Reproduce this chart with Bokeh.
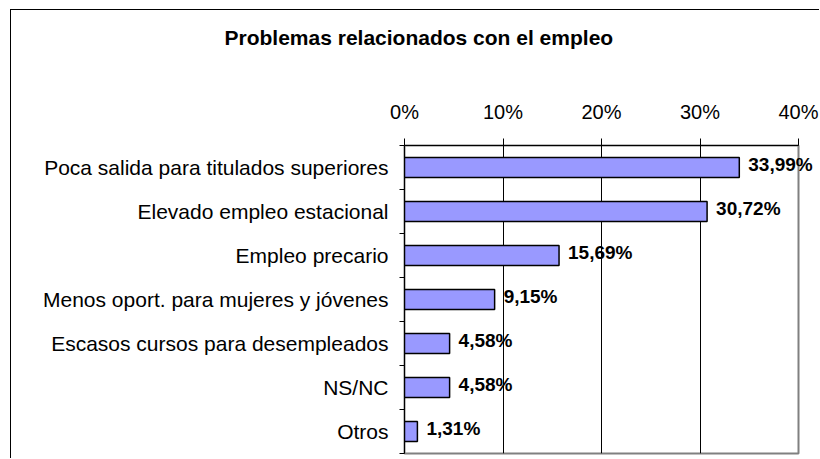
from bokeh.plotting import figure
from bokeh.models import (ColumnDataSource, Range1d, FixedTicker, PrintfTickFormatter,
                          LinearAxis, CustomJSTickFormatter, Title)
from bokeh.core.properties import value
from bokeh.embed import file_html
from bokeh.resources import INLINE

# ---- data ----
categories = ["Poca salida para titulados superiores", "Elevado empleo estacional",
              "Empleo precario", "Menos oport. para mujeres y jóvenes",
              "Escasos cursos para desempleados", "NS/NC", "Otros"]
values = [33.99, 30.72, 15.69, 9.15, 4.58, 4.58, 1.31]
x_ticks = [0, 10, 20, 30, 40]
grid_ticks = [10, 20, 30]
title_text = "Problemas relacionados con el empleo"

n = len(categories)
ypos = [n - i - 0.5 for i in range(n)]          # category slot centres, first on top
labels = [f"{v:.2f}".replace(".", ",") + "%" for v in values]
src = ColumnDataSource(dict(y=ypos, val=values, lab=labels))

FONT = "Liberation Sans"
W, H = 809, 449

p = figure(width=W, height=H, output_backend="svg", toolbar_location=None,
           x_range=Range1d(x_ticks[0], x_ticks[-1]), y_range=Range1d(0, n),
           x_axis_location="above", y_axis_location=None,
           min_border_left=393, min_border_right=22, min_border_top=135, min_border_bottom=6)
# outer chart frame: left and top edges
p.styles = {"border-left": "1px solid black", "border-top": "1px solid black",
            "margin-left": "10px", "margin-top": "9px"}
p.background_fill_color = "white"
p.border_fill_color = "white"
p.outline_line_color = "#808080"
p.outline_line_width = 2

t = Title(text=title_text + "\n\n", align="left", offset=-180, standoff=0,
          text_font=FONT, text_font_style="bold", text_font_size="21px",
          text_line_height=1.06, text_color="black")
p.add_layout(t, "above")

# top axis
xa = p.xaxis[0]
xa.ticker = FixedTicker(ticks=x_ticks)
xa.formatter = PrintfTickFormatter(format="%d%%")
xa.major_tick_out = 7
xa.major_tick_in = 0
xa.minor_tick_line_color = None
xa.axis_line_color = "black"
xa.major_tick_line_color = "black"
xa.major_label_text_font = FONT
xa.major_label_text_font_size = "20px"
xa.major_label_text_color = "black"
xa.major_label_standoff = 16

# grid
p.xgrid.ticker = FixedTicker(ticks=grid_ticks)
p.xgrid.grid_line_color = "black"
p.xgrid.grid_line_width = 1
p.ygrid.visible = False

# left: boundary tick axis (nearest the frame) + category label axis
tick_axis = LinearAxis(ticker=FixedTicker(ticks=list(range(n + 1))),
                       formatter=CustomJSTickFormatter(code="return ''"),
                       major_tick_out=5, major_tick_in=0, minor_tick_line_color=None,
                       major_label_standoff=0, major_label_text_font_size="1px",
                       axis_line_color="black", major_tick_line_color="black")
p.add_layout(tick_axis, "left")
cat_axis = LinearAxis(ticker=FixedTicker(ticks=ypos),
                      formatter=CustomJSTickFormatter(args=dict(cats=categories, n=n),
                                                      code="return cats[n - 1 - Math.floor(tick)]"),
                      axis_line_color=None, major_tick_line_color=None, minor_tick_line_color=None,
                      major_tick_out=0, major_tick_in=0,
                      major_label_standoff=11, major_label_text_font=FONT,
                      major_label_text_font_size="21px", major_label_text_color="black")
p.add_layout(cat_axis, "left")

p.hbar(y="y", left=0, right="val", height=0.45, source=src,
       fill_color="#9999ff", line_color="black", line_width=1.5)

p.text(x="val", y="y", text="lab", source=src, x_offset=9, y_offset=-3,
       text_baseline="middle", text_align="left", text_font=value(FONT), text_font_style="bold",
       text_font_size="19px", text_color="black", level="overlay")

open("out.html", "w").write(file_html(p, INLINE))
